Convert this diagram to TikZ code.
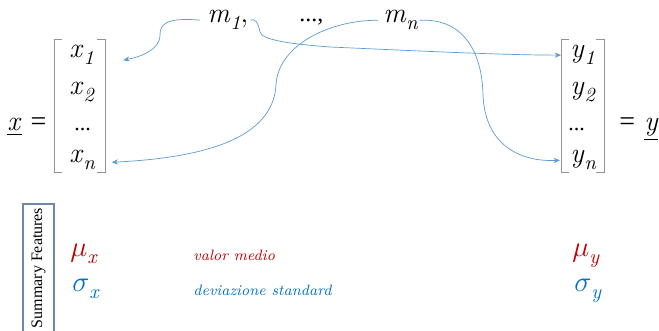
\documentclass[tikz,border=0pt]{standalone}
\usepackage{fontspec}
\newfontfamily\uprm{Liberation Serif}
\usepackage{xcolor}
\usetikzlibrary{arrows.meta,positioning,calc}

\definecolor{linkblue}{HTML}{5B9BD5}
\definecolor{meanred}{HTML}{C00000}
\definecolor{devblue}{HTML}{0070C0}
\definecolor{boxgray}{HTML}{6F88A6}

% italic symbol with italic subscript
\newcommand{\isub}[2]{\textit{#1}\raisebox{-0.55ex}{\fontsize{10}{10}\selectfont\textit{#2}}}

\begin{document}
\begin{tikzpicture}[x=0.5pt,y=-0.5pt,
  entry/.style={font=\fontsize{14}{16}\selectfont, inner sep=0pt, anchor=base west},
  dots/.style={font=\uprm\fontsize{11}{12}\selectfont, inner sep=0pt, anchor=base west},
  note/.style={font=\fontsize{7.5}{9}\selectfont\itshape, inner sep=0pt, anchor=base west},
  link/.style={-{Stealth[length=3.2pt,width=2.6pt]}, draw=linkblue, line width=0.35pt},
  brk/.style={draw=gray!85, line width=0.5pt}
]
  \useasboundingbox (0,0) rectangle (659,331);

  % input vector
  \node[entry] (xeq) at (7,131) {\underline{\textit{x}} \uprm=};
  \node[entry] (x1) at (69,58) {\isub{x}{1}};
  \node[entry] (x2) at (69,95) {\isub{x}{2}};
  \node[dots] (xd) at (74,131) {...};
  \node[entry] (xn) at (69,163) {\isub{x}{n}};
  \draw[brk] (62,40) -- (54,40) -- (54,173) -- (62,173);
  \draw[brk] (97,40) -- (105,40) -- (105,173) -- (97,173);

  % output vector
  \node[entry] (y1) at (570,58) {\isub{y}{1}};
  \node[entry] (y2) at (570,95) {\isub{y}{2}};
  \node[dots] (yd) at (568,131) {...};
  \node[entry] (yn) at (570,163) {\isub{y}{n}};
  \node[entry] (yeq) at (619,131) {{\uprm=}\ \underline{\textit{y}}};
  \draw[brk] (569,40) -- (561,40) -- (561,173) -- (569,173);
  \draw[brk] (596,40) -- (604,40) -- (604,173) -- (596,173);

  % maps
  \node[entry] (m1) at (207,23) {\isub{m}{1},};
  \node[dots, font=\uprm\fontsize{12}{14}\selectfont] (mdots) at (299,22) {...,};
  \node[entry] (mn) at (383,23) {\isub{m}{n}};

  \draw[link] ([xshift=-3.5pt]m1.west) .. controls (165,17) and (160,25) .. (160,35)
    .. controls (160,50) and (140,57) .. ($(x1.east)+(29,5)$);
  \draw[link] ([xshift=1pt]m1.east) .. controls (255,17) and (259,25) .. (260,32)
    .. controls (262,40) and (290,44) .. (330,47)
    .. controls (420,51) and (500,55) .. ([xshift=-4.5pt]y1.west);
  \draw[link] ([xshift=-2.5pt]mn.west) .. controls (330,20) and (278,45) .. (276,85)
    .. controls (273,140) and (200,158) .. ($(xn.east)+(16,2)$);
  \draw[link] ([xshift=0.5pt]mn.east) .. controls (462,18) and (482,50) .. (483,95)
    .. controls (485,145) and (520,162) .. ([xshift=-5pt]yn.west);

  % summary features
  \draw[draw=boxgray, line width=0.6pt] (23,204) rectangle (54,345);
  \node[font=\uprm\fontsize{8}{10}\selectfont, rotate=90, inner sep=0pt] (feat) at (38.5,268) {Summary Features};

  \node[entry, text=meanred] (mux) at (70,257) {\isub{$\mu$}{x}};
  \node[entry, text=devblue] (sigx) at (72,292) {\isub{$\sigma$}{x}};
  \node[note, text=meanred] (mean) at (193,261) {valor medio};
  \node[note, text=devblue] (dev) at (193,296) {deviazione standard};
  \node[entry, text=meanred] (muy) at (572,257) {\isub{$\mu$}{y}};
  \node[entry, text=devblue] (sigy) at (574,292) {\isub{$\sigma$}{y}};
\end{tikzpicture}
\end{document}
